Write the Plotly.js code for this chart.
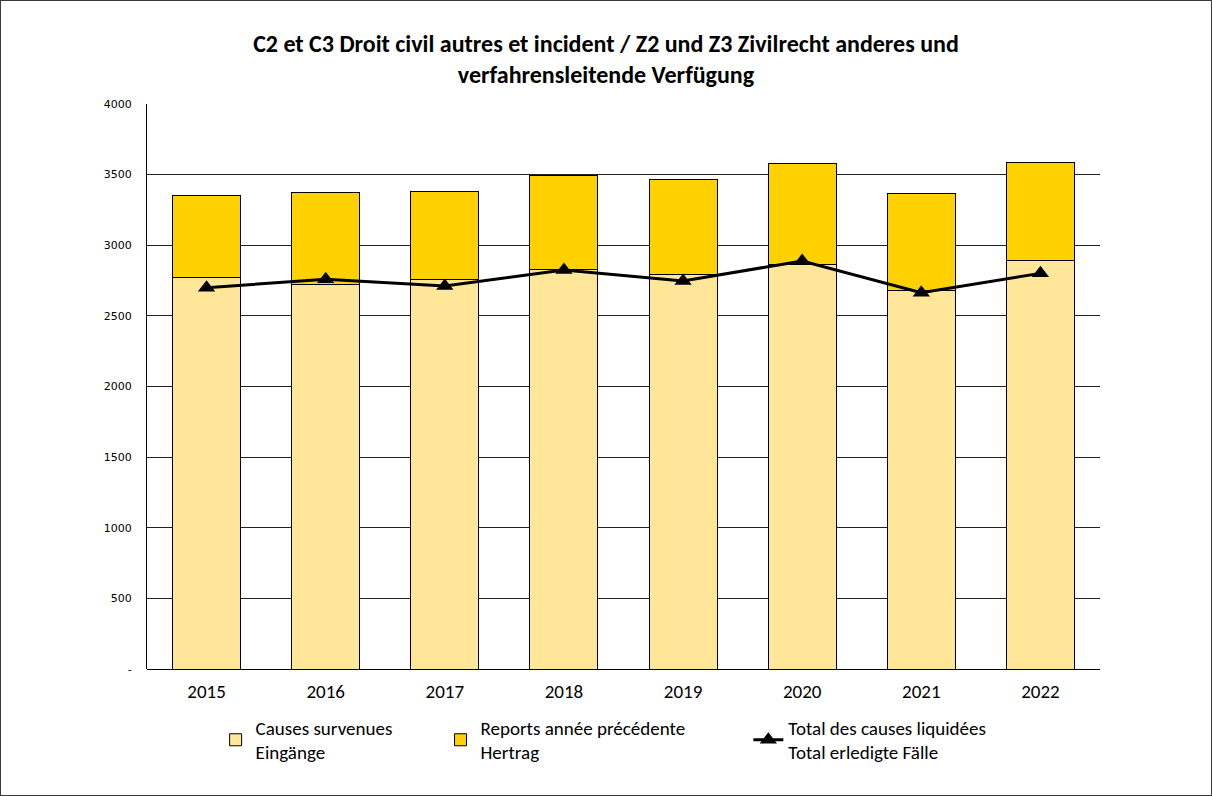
<!DOCTYPE html>
<html>
<head>
<meta charset="utf-8">
<script src="https://cdn.plot.ly/plotly-3.0.1.min.js"></script>
<style>
  html, body { margin: 0; padding: 0; background: #fff; }
  #chart { width: 1212px; height: 796px; box-sizing: border-box; border: 1px solid #3a3a3a; }
</style>
</head>
<body>
<div id="chart"></div>
<script>
// values
const years = ['2015', '2016', '2017', '2018', '2019', '2020', '2021', '2022'];
const eingaenge = [2773, 2719, 2759, 2830, 2794, 2865, 2683, 2891];
const hertrag = [581, 656, 620, 665, 670, 717, 682, 696];
const erledigt = [2700, 2759, 2712, 2825, 2747, 2889, 2664, 2801];
const yTickVals = [0, 500, 1000, 1500, 2000, 2500, 3000, 3500, 4000];
const yTickText = ['-', '500', '1000', '1500', '2000', '2500', '3000', '3500', '4000'];

const FONT = 'Carlito, Lato, sans-serif';
const LEG_FONT = { family: FONT, size: 19, color: '#000' };

const traces = [
  { type: 'bar', x: years, y: eingaenge, name: 'Causes survenues<br>Eingänge',
    marker: { color: '#FFE699', line: { color: '#000', width: 1 } }, legend: 'legend' },
  { type: 'bar', x: years, y: hertrag, name: 'Reports année précédente<br>Hertrag',
    marker: { color: '#FFD100', line: { color: '#000', width: 1 } }, legend: 'legend2' },
  { type: 'scatter', x: years, y: erledigt, name: 'Total des causes liquidées<br>Total erledigte Fälle',
    mode: 'lines+markers', line: { color: '#000', width: 3 },
    marker: { symbol: 'triangle-up', size: 15, color: '#000' }, legend: 'legend3' },
];

const legendBase = { orientation: 'v', yanchor: 'top', xanchor: 'left', y: -0.07,
  font: LEG_FONT, bgcolor: 'rgba(0,0,0,0)', borderwidth: 0 };

const layout = {
  width: 1210, height: 794,
  paper_bgcolor: '#fff', plot_bgcolor: '#fff',
  font: { family: FONT, color: '#000' },
  margin: { t: 103, r: 111, b: 126, l: 146 },
  barmode: 'stack', bargap: 0.43,
  showlegend: true,
  title: { text: 'C2 et C3 Droit civil autres et incident / Z2 und Z3 Zivilrecht anderes und<br>verfahrensleitende Verfügung',
    font: { family: FONT, size: 24, color: '#000', weight: 'bold' },
    x: 0.5, xanchor: 'center', y: 0.936, yanchor: 'top' },
  xaxis: { type: 'category', showgrid: false, showline: false, ticks: '',
    tickfont: { family: FONT, size: 19, color: '#000' }, ticklabelstandoff: 9 },
  yaxis: { range: [0, 4000], tickvals: yTickVals, ticktext: yTickText,
    showgrid: true, gridcolor: '#222', gridwidth: 1,
    zeroline: true, zerolinecolor: '#000', zerolinewidth: 1,
    showline: true, linecolor: '#000', linewidth: 1, ticks: '',
    tickfont: { family: 'DejaVu Sans, Verdana, sans-serif', size: 11, color: '#000' },
    ticklabelstandoff: 12 },
  legend: Object.assign({}, legendBase, { x: 0.072 }),
  legend2: Object.assign({}, legendBase, { x: 0.308 }),
  legend3: Object.assign({}, legendBase, { x: 0.631 }),
};

Plotly.newPlot('chart', traces, layout, { displayModeBar: false, staticPlot: true });
</script>
</body>
</html>
